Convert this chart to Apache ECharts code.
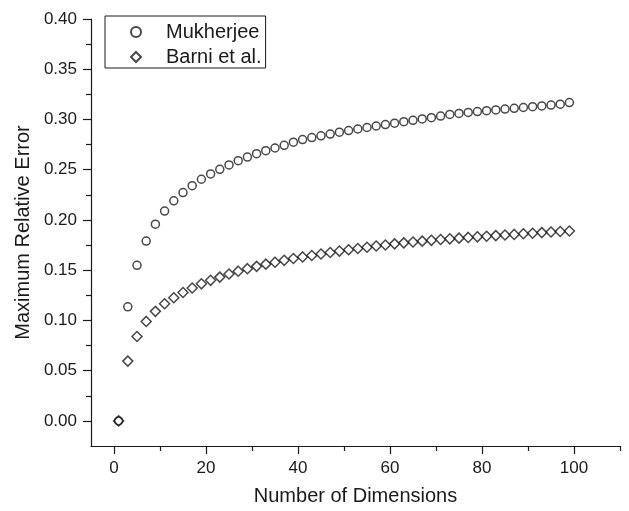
<!DOCTYPE html>
<html lang="en">
<head>
    <meta charset="UTF-8">
    <title>Maximum Relative Error</title>
    <style type="text/css">
        * {
            margin: 0;
            padding: 0;
        }

        html, body {
            width: 100%;
            height: 100%;
            background: #fff;
        }

        #main {
            width: 629px;
            height: 511px;
        }
    </style>
</head>
<body>
<div id="main"></div>
<script src="https://cdn.jsdelivr.net/npm/echarts@6/dist/echarts.min.js"></script>
<script>
    // number of dimensions (x)
    const dims = [1, 3, 5, 7, 9, 11, 13, 15, 17, 19,
        21, 23, 25, 27, 29, 31, 33, 35, 37, 39,
        41, 43, 45, 47, 49, 51, 53, 55, 57, 59,
        61, 63, 65, 67, 69, 71, 73, 75, 77, 79,
        81, 83, 85, 87, 89, 91, 93, 95, 97, 99];

    const mukherjee = [0, 0.1135, 0.1548, 0.1790, 0.1958, 0.2088, 0.2190, 0.2272, 0.2341, 0.2405,
        0.2458, 0.2504, 0.2548, 0.2590, 0.2626, 0.2659, 0.2689, 0.2716, 0.2743, 0.2774,
        0.2800, 0.2820, 0.2837, 0.2855, 0.2873, 0.2890, 0.2905, 0.2920, 0.2935, 0.2949,
        0.2963, 0.2978, 0.2992, 0.3005, 0.3018, 0.3034, 0.3050, 0.3060, 0.3070, 0.3079,
        0.3087, 0.3095, 0.3103, 0.3111, 0.3119, 0.3127, 0.3135, 0.3143, 0.3152, 0.3168];

    const barni = [0, 0.0595, 0.0840, 0.0990, 0.1090, 0.1166, 0.1225, 0.1278, 0.1323, 0.1364,
        0.1399, 0.1431, 0.1462, 0.1490, 0.1515, 0.1538, 0.1560, 0.1579, 0.1598, 0.1616,
        0.1632, 0.1646, 0.1661, 0.1676, 0.1690, 0.1703, 0.1716, 0.1728, 0.1740, 0.1751,
        0.1762, 0.1772, 0.1781, 0.1789, 0.1797, 0.1805, 0.1812, 0.1819, 0.1826, 0.1832,
        0.1838, 0.1844, 0.1850, 0.1856, 0.1862, 0.1868, 0.1874, 0.1880, 0.1885, 0.1890];

    // tick labels
    const xTicks = [0, 20, 40, 60, 80, 100];
    const xMinorTicks = [10, 30, 50, 70, 90, 110];
    const yTicks = [0, 0.05, 0.10, 0.15, 0.20, 0.25, 0.30, 0.35, 0.40];
    const yMinorTicks = [0.025, 0.075, 0.125, 0.175, 0.225, 0.275, 0.325, 0.375];

    const font = 'Liberation Sans, Arial, sans-serif';
    const ink = '#1a1a1a';

    function pairs(ys) {
        return dims.map((d, i) => [d, ys[i]]);
    }

    var myChart = echarts.init(document.getElementById('main'), null, {renderer: 'canvas'});

    option = {
        animation: false,
        backgroundColor: '#fff',
        grid: {
            left: 91,
            right: 9,
            top: 19,
            bottom: 64
        },
        legend: {
            orient: 'vertical',
            left: 105,
            top: 16,
            padding: [5, 4, 0, 25],
            itemGap: 3,
            itemWidth: 10,
            itemHeight: 10,
            borderColor: ink,
            borderWidth: 1,
            borderRadius: 0,
            textStyle: {
                fontFamily: font,
                fontSize: 20,
                color: ink,
                lineHeight: 22,
                padding: [0, 0, 0, 20]
            },
            data: ['Mukherjee', 'Barni et al.']
        },
        xAxis: [{
            type: 'value',
            min: -5,
            max: 110,
            name: 'Number of Dimensions',
            nameLocation: 'middle',
            nameGap: 40,
            nameTextStyle: {fontFamily: font, fontSize: 20, color: ink},
            axisLine: {onZero: false, lineStyle: {color: ink, width: 1.2}},
            axisTick: {customValues: xTicks, length: 8, lineStyle: {color: ink, width: 1.2}},
            axisLabel: {customValues: xTicks, margin: 14, fontFamily: font, fontSize: 17, color: ink},
            splitLine: {show: false}
        }, {
            type: 'value',
            position: 'bottom',
            min: -5,
            max: 110,
            axisLine: {show: false, onZero: false},
            axisTick: {customValues: xMinorTicks, length: 5, lineStyle: {color: ink, width: 1.2}},
            axisLabel: {show: false},
            splitLine: {show: false}
        }],
        yAxis: [{
            type: 'value',
            min: -0.025,
            max: 0.40,
            name: 'Maximum Relative Error',
            nameLocation: 'middle',
            nameGap: 53,
            nameTextStyle: {fontFamily: font, fontSize: 20, color: ink},
            axisLine: {show: true, onZero: false, lineStyle: {color: ink, width: 1.2}},
            axisTick: {show: true, customValues: yTicks, length: 8, lineStyle: {color: ink, width: 1.2}},
            axisLabel: {
                customValues: yTicks, margin: 14, fontFamily: font, fontSize: 17, color: ink,
                formatter: v => v.toFixed(2)
            },
            splitLine: {show: false}
        }, {
            type: 'value',
            position: 'left',
            min: -0.025,
            max: 0.40,
            axisLine: {show: false, onZero: false},
            axisTick: {show: true, customValues: yMinorTicks, length: 5, lineStyle: {color: ink, width: 1.2}},
            axisLabel: {show: false},
            splitLine: {show: false}
        }],
        series: [{
            name: 'Mukherjee',
            type: 'scatter',
            symbol: 'circle',
            symbolSize: 8,
            itemStyle: {color: 'rgba(255,255,255,0)', borderColor: ink, borderWidth: 1.5},
            data: pairs(mukherjee)
        }, {
            name: 'Barni et al.',
            type: 'scatter',
            symbol: 'diamond',
            symbolSize: 10,
            itemStyle: {color: 'rgba(255,255,255,0)', borderColor: ink, borderWidth: 1.5},
            data: pairs(barni)
        }]
    };

    myChart.setOption(option);
</script>
</body>
</html>
